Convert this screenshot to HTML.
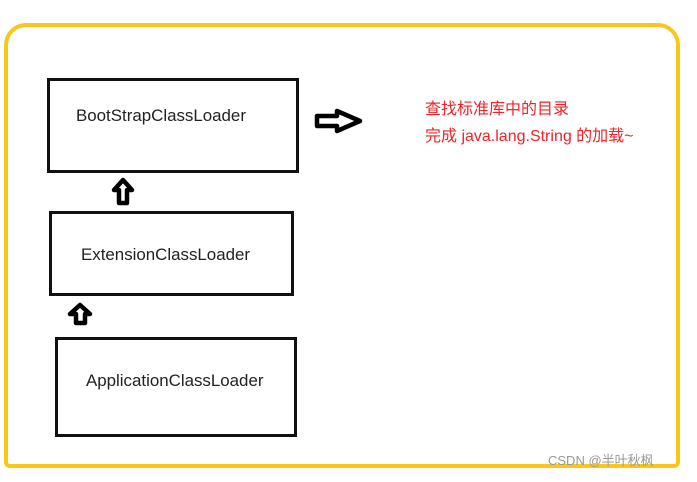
<!DOCTYPE html>
<html><head><style>
body{margin:0;width:697px;height:482px;background:#fff;position:relative;overflow:hidden;font-family:"Liberation Sans","Noto Sans CJK SC",sans-serif}
.frame{position:absolute;left:4px;top:23px;width:668px;height:437px;border:4px solid #f9c619;border-radius:22px 22px 6px 6px}
.box{position:absolute;border:3px solid #111;box-sizing:border-box;font-size:16.9px;color:#222}
.red{position:absolute;left:425px;color:#e8262b;font-size:16px}
.wm{position:absolute;left:548px;top:450px;color:#999;font-size:13px}
</style></head><body>
<div class="frame"></div>
<div class="box" style="left:47px;top:78px;width:252px;height:95px"><span style="position:absolute;left:26px;top:25px">BootStrapClassLoader</span></div>
<div class="box" style="left:49px;top:211px;width:245px;height:85px"><span style="position:absolute;left:29px;top:31px">ExtensionClassLoader</span></div>
<div class="box" style="left:55px;top:337px;width:242px;height:100px"><span style="position:absolute;left:28px;top:31px">ApplicationClassLoader</span></div>
<svg style="position:absolute;left:0;top:0" width="697" height="482">
<polygon points="123,180 132,190 127,190 127,203 119,203 119,190 114,190" fill="#fff" stroke="#000" stroke-width="4.5" stroke-linejoin="round"/>
<polygon points="80,305 90,314 85,314 85,323 76,323 76,314 70,314" fill="#fff" stroke="#000" stroke-width="4.5" stroke-linejoin="round"/>
<polygon points="317,116 337,116 337,111 360,121 337,131 337,126 317,126" fill="#fff" stroke="#000" stroke-width="4.5" stroke-linejoin="round"/>
</svg>
<div class="red" style="top:95px">查找标准库中的目录</div>
<div class="red" style="top:122px">完成 java.lang.String 的加载~</div>
<div class="wm">CSDN @半叶秋枫</div>
</body></html>
